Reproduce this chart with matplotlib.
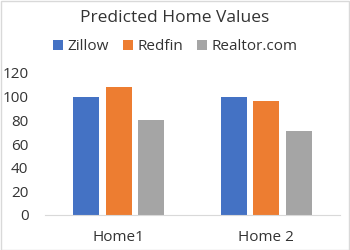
import matplotlib.pyplot as plt
import numpy as np

plt.rcParams['font.family'] = ['Open Sans', 'DejaVu Sans']

homes = ['Home1', 'Home 2']
zillow = [100, 100]
redfin = [108, 96]
realtor = [80, 71]

series = [('Zillow', zillow, '#4472C4'),
          ('Redfin', redfin, '#ED7D31'),
          ('Realtor.com', realtor, '#A5A5A5')]

fig = plt.figure(figsize=(3.5, 2.5), dpi=100)
ax = fig.add_axes([0.129, 0.14, 0.842, 0.568])

x = np.arange(len(homes))
w = 0.176
step = 0.22
for i, (name, vals, col) in enumerate(series):
    ax.bar(x + (i - 1) * step, vals, w, color=col, label=name, zorder=2)

ax.set_xlim(-0.5, 1.5)
ax.set_ylim(0, 120)
ax.set_yticks(range(0, 121, 20))
ax.set_xticks(x)
ax.set_xticklabels(homes)
ax.tick_params(axis='both', length=0, labelsize=11, colors='#333333')
ax.tick_params(axis='x', pad=11)
ax.tick_params(axis='y', pad=12)
for s in ['top', 'right', 'left']:
    ax.spines[s].set_visible(False)
ax.spines['bottom'].set_color('#D9D9D9')

fig.text(0.5, 0.93, 'Predicted Home Values', ha='center', va='center',
         fontsize=12.5, color='#333333')
leg = fig.legend(loc='center', bbox_to_anchor=(0.5, 0.812), ncol=3, frameon=False,
                 fontsize=11, handlelength=0.65, handleheight=0.65,
                 handletextpad=0.3, columnspacing=0.9)
for t in leg.get_texts():
    t.set_color('#333333')

fig.patches.append(plt.Rectangle((0.002, 0.002), 0.995, 0.995, transform=fig.transFigure,
                                 fill=False, edgecolor='#D9D9D9', lw=1))

plt.savefig('out.png', dpi=100)
